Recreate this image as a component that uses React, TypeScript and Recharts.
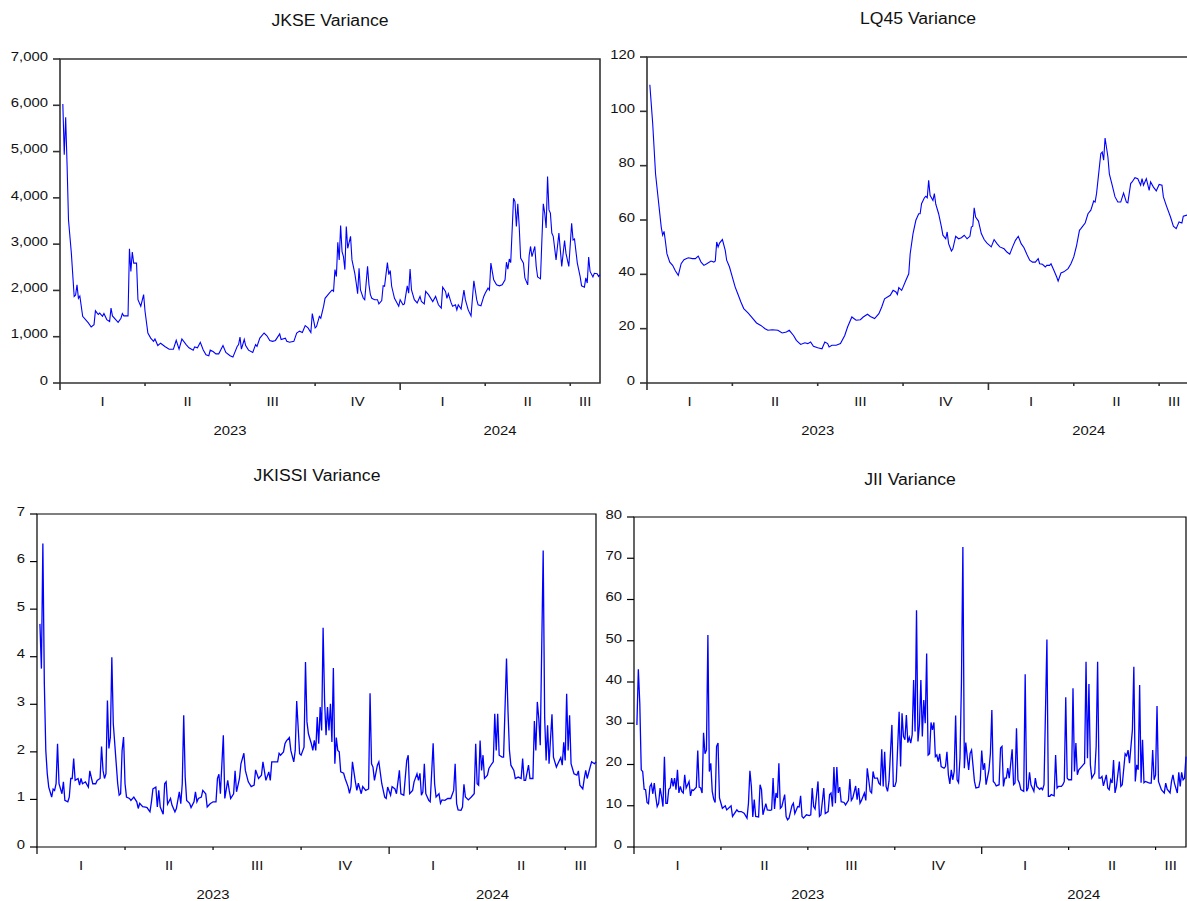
import { LineChart, Line, XAxis, YAxis, ReferenceArea } from 'recharts'

type Pt = [number, number]

const JKSE_VAR: Pt[] = [
  [2, 6030], [3, 4930], [4, 5740], [5, 4700], [6, 3520], [8, 2810], [10, 1870], [11, 1900], [12, 2120], [13, 1830],
  [14, 1880], [16, 1440], [20, 1300], [22, 1210], [24, 1260], [25, 1560], [27, 1480], [28, 1510], [30, 1440], [31, 1500],
  [33, 1370], [35, 1330], [36, 1620], [37, 1450], [41, 1310], [43, 1400], [44, 1500], [45, 1450], [48, 1450], [49, 2900],
  [50, 2410], [51, 2830], [52, 2590], [54, 2590], [55, 1800], [57, 1660], [59, 1910], [60, 1550], [62, 1080], [64, 970],
  [66, 900], [67, 950], [69, 810], [71, 860], [74, 790], [77, 730], [80, 730], [82, 920], [84, 730], [86, 950],
  [89, 830], [91, 760], [94, 710], [95, 780], [97, 760], [99, 880], [101, 720], [103, 610], [105, 590], [106, 710],
  [108, 680], [110, 630], [112, 630], [115, 810], [117, 660], [120, 590], [122, 560], [125, 790], [126, 830], [127, 990],
  [128, 730], [130, 940], [131, 810], [133, 710], [136, 660], [138, 830], [139, 790], [141, 970], [144, 1080], [146, 1020],
  [148, 920], [150, 900], [152, 920], [155, 1060], [156, 940], [159, 970], [160, 900], [162, 880], [165, 900], [167, 1080],
  [169, 1120], [171, 1090], [173, 1240], [175, 1190], [177, 1090], [178, 1500], [180, 1190], [181, 1220], [183, 1440], [184, 1400],
  [186, 1660], [187, 1830], [190, 1940], [192, 2010], [193, 1980], [194, 2450], [195, 2300], [196, 3040], [197, 2660], [198, 3400],
  [199, 2840], [200, 2730], [201, 2450], [202, 3380], [203, 2910], [205, 3170], [206, 2660], [208, 2370], [209, 2160], [210, 1930],
  [211, 2480], [212, 2010], [214, 1830], [215, 1800], [217, 2520], [218, 2120], [219, 1910], [220, 1830], [222, 1800], [224, 1800],
  [225, 1710], [227, 1780], [228, 2100], [229, 2090], [231, 2600], [232, 2340], [233, 2430], [234, 2090], [236, 1830], [239, 1660],
  [240, 1800], [242, 1690], [243, 1710], [245, 2100], [246, 1940], [247, 2460], [248, 2010], [250, 1800], [252, 1730], [254, 1870],
  [255, 1760], [257, 1710], [258, 1980], [260, 1910], [263, 1760], [265, 1870], [267, 1690], [269, 1620], [270, 2070], [272, 1980],
  [273, 1830], [274, 1930], [276, 1730], [277, 1660], [279, 1690], [280, 1580], [281, 1690], [283, 1600], [285, 2010], [286, 1800],
  [288, 1580], [290, 1450], [292, 2210], [293, 2010], [294, 1800], [295, 1690], [297, 1670], [299, 1870], [300, 1940], [302, 2050],
  [303, 2010], [304, 2590], [306, 2230], [308, 2120], [310, 2100], [312, 2120], [314, 2230], [315, 2610], [316, 2460], [317, 2680],
  [318, 2600], [320, 3990], [321, 3920], [322, 3380], [323, 3870], [324, 3380], [325, 2700], [327, 2590], [328, 2270], [330, 2120],
  [331, 2750], [332, 2950], [333, 2730], [335, 2950], [336, 2520], [337, 2290], [339, 2250], [340, 3090], [341, 3870], [342, 3670],
  [343, 3350], [344, 4460], [345, 3740], [346, 3670], [347, 3240], [348, 3170], [350, 2660], [352, 3240], [354, 2520], [356, 3080],
  [357, 2800], [359, 2520], [361, 3450], [362, 3090], [363, 3110], [365, 2590], [367, 2300], [368, 2100], [370, 2070], [371, 2270],
  [372, 2160], [373, 2720], [374, 2410], [376, 2290], [377, 2370], [379, 2360], [380, 2300], [381, 2340],
]

const LQ45_VAR: Pt[] = [
  [2, 109.8], [4, 95.5], [6, 77], [8, 67.2], [10, 57.4], [11, 54.4], [12, 55.8], [13, 51.9], [14, 47.6], [16, 44.5],
  [18, 43.3], [20, 41.2], [22, 39.6], [24, 43.9], [26, 45.4], [29, 46.1], [32, 45.8], [34, 45.8], [36, 46.7], [38, 44.5],
  [40, 43.3], [42, 43.9], [45, 44.9], [47, 44.5], [48, 44.9], [49, 51.9], [50, 50.1], [51, 51.5], [53, 52.8], [55, 48.8],
  [56, 45.2], [58, 42.7], [60, 39], [62, 35.3], [64, 32.6], [66, 29.8], [68, 27.4], [71, 25.8], [74, 24], [77, 22.1],
  [80, 21.2], [83, 20], [85, 19.4], [88, 19.6], [92, 19.4], [95, 18.4], [98, 18.8], [100, 19.4], [103, 17.5], [105, 15.7],
  [108, 14.2], [111, 14.8], [113, 14.5], [115, 15.1], [117, 13.5], [120, 13], [123, 12.6], [125, 15.1], [127, 14.5], [128, 13.3],
  [130, 13.9], [133, 13.9], [136, 14.5], [139, 17.5], [141, 20.6], [144, 24.3], [147, 23.1], [150, 23.3], [152, 24.3], [155, 25.3],
  [157, 24.5], [160, 23.7], [163, 25.5], [165, 28], [167, 31], [171, 32.3], [173, 34.1], [175, 33.5], [176, 32.6], [177, 35.1],
  [179, 34.1], [180, 35.3], [182, 37.8], [184, 40.2], [185, 47.6], [187, 55], [189, 59.9], [191, 62.3], [192, 62.3], [193, 66],
  [195, 68.2], [196, 68.7], [197, 68.2], [198, 74.6], [199, 69.1], [201, 67.2], [202, 69.7], [203, 65.8], [205, 62.3], [207, 57.4],
  [208, 54.4], [210, 53.1], [211, 55.6], [212, 51.3], [214, 48.6], [215, 49.4], [217, 54], [219, 53.1], [221, 53.5], [223, 54.4],
  [225, 53.1], [227, 54], [228, 57.4], [229, 57.7], [230, 64.5], [231, 61.1], [233, 59.6], [235, 55], [237, 52.8], [239, 51.5],
  [242, 50.1], [244, 52.8], [246, 51.3], [248, 50.1], [251, 49.4], [253, 48.2], [255, 47.4], [257, 50.1], [259, 52.5], [261, 54],
  [263, 51.3], [265, 49.8], [267, 47.4], [269, 45.2], [271, 44.5], [273, 44.5], [275, 45.8], [276, 43.9], [278, 43.7], [280, 42.7],
  [281, 43.3], [283, 43.3], [284, 43.9], [286, 41.5], [288, 39], [289, 37.5], [291, 40.5], [293, 40.9], [296, 42.1], [298, 43.9],
  [300, 46.4], [302, 50.7], [304, 56.2], [305, 56.8], [308, 58.9], [310, 62.3], [312, 63.6], [314, 67], [315, 66.6], [316, 69.7],
  [317, 74.6], [319, 84.4], [320, 85], [321, 82], [322, 90.2], [324, 83.2], [325, 77], [327, 72.8], [329, 68.5], [331, 66.6],
  [333, 66.6], [335, 69.9], [337, 66.6], [338, 66.3], [340, 73.4], [341, 74], [343, 75.6], [345, 75.2], [347, 72.8], [348, 75.2],
  [349, 72.8], [351, 75.2], [353, 70.9], [354, 74], [356, 72.1], [358, 70.7], [360, 73.1], [362, 72.8], [363, 68.5], [365, 65.4],
  [368, 61.1], [370, 57.7], [372, 56.8], [374, 59.3], [376, 58.9], [377, 61.4], [381, 62],
]

const JKISSI_VAR: Pt[] = [
  [2, 4.69], [3, 3.75], [4, 6.38], [5, 3.43], [6, 2.03], [7, 1.54], [8, 1.26], [10, 1.05], [11, 1.22], [12, 1.19],
  [13, 1.33], [14, 2.17], [15, 1.33], [17, 1.12], [18, 1.37], [19, 0.98], [21, 0.95], [22, 1.05], [23, 1.44], [24, 1.44],
  [25, 1.86], [26, 1.4], [28, 1.44], [29, 1.3], [30, 1.44], [31, 1.33], [33, 1.37], [35, 1.26], [36, 1.6], [38, 1.33],
  [40, 1.33], [41, 1.4], [43, 1.44], [44, 2.11], [45, 1.61], [46, 1.44], [47, 1.54], [48, 3.08], [49, 2.07], [50, 2.31],
  [51, 3.99], [52, 2.59], [54, 1.75], [55, 1.33], [56, 1.09], [57, 1.12], [58, 2.03], [59, 2.31], [60, 1.33], [61, 1.05],
  [63, 1.02], [64, 0.98], [66, 1.05], [68, 0.95], [69, 0.81], [70, 0.92], [72, 0.85], [74, 0.84], [75, 0.83], [77, 0.74],
  [78, 0.95], [79, 1.22], [81, 1.26], [82, 0.84], [83, 1.19], [84, 0.84], [86, 0.69], [87, 1.33], [88, 1.37], [89, 0.9],
  [91, 1.02], [92, 0.88], [94, 0.74], [95, 0.81], [97, 1.16], [98, 0.91], [99, 1.33], [100, 2.77], [101, 1.47], [102, 0.98],
  [104, 0.92], [105, 0.83], [107, 0.95], [108, 1.16], [109, 0.95], [110, 1.02], [112, 1.05], [113, 1.19], [115, 1.12], [116, 0.84],
  [118, 0.91], [120, 0.95], [122, 0.95], [123, 1.44], [124, 1.53], [125, 1.12], [127, 2.35], [128, 1.02], [130, 1.4], [131, 1.19],
  [132, 1.02], [134, 1.12], [135, 1.6], [136, 1.16], [138, 1.44], [139, 1.75], [141, 1.97], [142, 1.61], [144, 1.37], [146, 1.27],
  [148, 1.3], [149, 1.62], [151, 1.44], [153, 1.51], [154, 1.79], [156, 1.4], [158, 1.58], [159, 1.4], [160, 1.79], [162, 1.79],
  [164, 1.79], [165, 1.97], [166, 1.93], [168, 2.0], [169, 2.17], [170, 2.23], [172, 2.3], [173, 2.03], [175, 1.79], [176, 2.03],
  [177, 3.07], [179, 1.96], [180, 1.93], [182, 2.1], [183, 3.89], [184, 2.63], [185, 2.38], [187, 2.17], [188, 2.03], [189, 2.24],
  [190, 2.03], [191, 2.73], [192, 2.17], [193, 2.94], [194, 2.45], [195, 4.61], [196, 3.08], [197, 2.35], [198, 2.94], [199, 2.45],
  [200, 3.01], [201, 2.21], [202, 3.76], [203, 1.75], [204, 2.3], [205, 2.03], [206, 2.0], [207, 1.58], [209, 1.55], [210, 1.44],
  [212, 1.27], [213, 1.13], [214, 1.27], [215, 1.79], [217, 1.37], [218, 1.19], [219, 1.34], [221, 1.12], [222, 1.27], [224, 1.19],
  [226, 1.22], [227, 3.23], [228, 1.75], [229, 1.68], [230, 1.4], [232, 1.72], [233, 1.79], [235, 1.33], [237, 1.05], [238, 1.02],
  [239, 1.26], [241, 1.09], [242, 1.27], [244, 1.22], [245, 1.12], [247, 1.61], [248, 1.12], [250, 1.09], [252, 1.82], [253, 1.93],
  [254, 1.12], [256, 1.19], [257, 1.37], [259, 1.54], [260, 1.4], [261, 1.55], [262, 1.09], [263, 1.16], [264, 1.75], [265, 1.12],
  [267, 0.98], [268, 0.95], [270, 2.18], [271, 1.33], [272, 1.05], [274, 1.12], [275, 0.92], [276, 0.99], [278, 0.98], [280, 1.02],
  [282, 1.02], [284, 1.19], [285, 1.75], [286, 0.91], [287, 0.78], [289, 0.77], [290, 0.84], [291, 1.32], [292, 1.05], [294, 0.99],
  [296, 1.05], [298, 1.12], [299, 2.17], [300, 1.33], [301, 1.3], [302, 2.24], [303, 1.61], [304, 1.93], [305, 1.44], [307, 1.51],
  [308, 1.65], [310, 1.75], [311, 1.79], [312, 2.8], [313, 2.03], [314, 2.8], [315, 1.93], [317, 1.89], [318, 1.89], [320, 3.96],
  [321, 2.87], [322, 2.03], [323, 1.72], [325, 1.61], [326, 1.44], [328, 1.47], [330, 1.44], [331, 1.86], [332, 1.4], [333, 1.4],
  [335, 1.72], [336, 1.44], [338, 1.44], [339, 2.65], [340, 2.03], [341, 3.05], [342, 2.7], [343, 2.14], [345, 6.23], [346, 2.73],
  [347, 1.82], [348, 2.56], [349, 1.75], [351, 2.79], [352, 1.89], [354, 1.68], [355, 1.75], [357, 1.88], [358, 1.72], [359, 2.2],
  [360, 1.82], [361, 3.22], [362, 2.03], [363, 2.77], [364, 1.75], [366, 1.54], [368, 1.51], [369, 1.6], [370, 1.3], [372, 1.22],
  [373, 1.44], [374, 1.61], [375, 1.44], [377, 1.68], [378, 1.79], [380, 1.75], [381, 1.79],
]

const JII_VAR: Pt[] = [
  [2, 29.6], [3, 43.1], [4, 34.8], [5, 18.7], [6, 18.3], [7, 14], [8, 13.9], [9, 10.8], [10, 10.5], [11, 14.7],
  [12, 15.3], [13, 12.9], [14, 15.5], [15, 12.3], [16, 9.8], [17, 10.6], [18, 14.3], [19, 12.3], [20, 9.8], [21, 21.9],
  [22, 10.6], [23, 10.6], [24, 14], [25, 14.3], [26, 16.7], [27, 14.7], [28, 16.7], [29, 13.9], [30, 18.7], [31, 13.1],
  [32, 14.7], [33, 13.5], [34, 13.1], [35, 17.5], [36, 14.3], [38, 15.9], [39, 12.4], [40, 13.9], [41, 13.7], [43, 14.5],
  [44, 23.4], [45, 14.5], [46, 14.3], [47, 13.1], [48, 27.7], [49, 22.6], [50, 23.5], [51, 51.4], [52, 18.3], [53, 20.3],
  [54, 13.5], [55, 11.6], [56, 10.8], [57, 24.4], [58, 25.2], [59, 11.9], [61, 9.4], [63, 10], [64, 9], [67, 10],
  [68, 7.4], [71, 9], [72, 8.6], [74, 8.6], [76, 8.2], [78, 7], [79, 10.6], [80, 18.5], [81, 14.7], [82, 7.3],
  [83, 11.5], [84, 7.4], [86, 7.3], [87, 15.1], [88, 13.9], [89, 7.8], [91, 10.5], [92, 9], [94, 8.9], [95, 9],
  [96, 16.7], [97, 9.2], [98, 13.1], [99, 11.9], [100, 20.3], [101, 9.4], [102, 9.8], [104, 12.7], [105, 7.4], [106, 6.6],
  [107, 7], [109, 10], [110, 10.6], [111, 8.1], [113, 9.8], [114, 9.7], [115, 12.4], [116, 7.4], [117, 7], [119, 7.8],
  [121, 7.6], [122, 7.8], [123, 14.3], [124, 9.8], [125, 9.2], [127, 15.9], [128, 7.4], [129, 7.8], [131, 14.3], [132, 8.1],
  [134, 8.6], [135, 12.7], [136, 13.1], [137, 9.8], [138, 19.4], [139, 10.6], [140, 19.4], [141, 13.1], [142, 14.5], [143, 11],
  [145, 10.8], [146, 10.2], [148, 11.3], [149, 16.5], [150, 11.3], [151, 11.9], [153, 14.8], [154, 11.5], [155, 14.3], [156, 10.6],
  [157, 11.3], [159, 13.1], [160, 11.3], [161, 19.1], [163, 13.5], [164, 13.1], [165, 18.3], [166, 16.7], [168, 16.7], [169, 15.5],
  [170, 15.1], [171, 23.7], [172, 14.7], [173, 23.1], [174, 14.7], [175, 13.5], [176, 15.9], [178, 29.6], [179, 14.7], [180, 14.7],
  [181, 15.9], [183, 32.8], [184, 19.5], [185, 32.4], [186, 26.8], [187, 26], [188, 32], [189, 25.3], [190, 26.6], [191, 25.2],
  [192, 27.2], [193, 40.5], [194, 28], [195, 57.4], [196, 25.6], [197, 29.6], [198, 40.5], [199, 26.8], [200, 35.6], [201, 30],
  [202, 46.9], [203, 22.3], [204, 22.6], [205, 30.2], [206, 28.4], [207, 30.2], [208, 21.9], [209, 22.3], [210, 20.7], [211, 22.6],
  [212, 19.5], [214, 19.1], [215, 19.5], [216, 23.1], [217, 17.5], [218, 15.3], [219, 18.7], [220, 16.3], [221, 18.3], [222, 31.9],
  [223, 16.3], [224, 15.6], [225, 21.5], [226, 39.7], [227, 72.7], [228, 19.1], [229, 25.3], [230, 21.9], [231, 18.7], [232, 22.7],
  [233, 23.5], [235, 15.9], [236, 14.3], [238, 14.5], [239, 16.3], [240, 23.4], [241, 18.7], [242, 20.3], [243, 15.1], [245, 18.7],
  [246, 22.7], [247, 33.2], [248, 15.9], [249, 15.5], [250, 14.8], [252, 15.1], [253, 24], [254, 24.4], [255, 14.7], [256, 16.7],
  [257, 16.7], [258, 19.1], [259, 16.7], [261, 23.7], [262, 15.1], [263, 15.5], [264, 28.8], [265, 16.3], [266, 15.5], [267, 13.9],
  [269, 13.5], [270, 41.9], [271, 13.5], [272, 14.3], [273, 18.1], [274, 15.1], [275, 14.3], [276, 13.5], [277, 16.7], [278, 14.7],
  [280, 14], [281, 14.3], [282, 13.9], [283, 15.1], [285, 50.3], [286, 12.3], [287, 12.3], [288, 12.7], [290, 12.4], [291, 22.3],
  [292, 14.3], [293, 14.7], [295, 14.7], [296, 15.1], [297, 15.9], [298, 36.3], [299, 16.7], [300, 16.3], [302, 16.3], [303, 38.5],
  [304, 18.3], [305, 25.2], [306, 17.5], [307, 18.7], [309, 19.5], [310, 19.9], [311, 20.3], [312, 44.9], [313, 21.5], [314, 39.5],
  [315, 19.9], [316, 16.7], [318, 17.9], [319, 24.4], [320, 44.9], [321, 16.7], [322, 16.7], [323, 17.1], [324, 14.8], [326, 17.5],
  [327, 14.3], [328, 13.9], [329, 16.3], [330, 15.5], [331, 21.1], [332, 13.1], [333, 14.7], [335, 20.7], [336, 14.7], [337, 15.1],
  [339, 22.6], [340, 22.1], [341, 23.5], [342, 20.3], [344, 28.4], [345, 43.7], [346, 15.9], [347, 19.9], [348, 18.7], [349, 39.3],
  [350, 15.6], [351, 26], [352, 15.6], [353, 15.9], [355, 15.6], [356, 15.5], [357, 15.5], [358, 23.5], [359, 16.3], [360, 17.5],
  [361, 34.2], [362, 15.9], [364, 13.9], [365, 13.5], [366, 13.1], [367, 15.5], [368, 14], [370, 13.1], [371, 15.9], [372, 17.5],
  [373, 15.5], [375, 13.1], [376, 18.1], [377, 14.7], [378, 18.1], [379, 16.3], [380, 16.7], [381, 21.9],
]

// x axis: quarter boundaries, roman quarter labels, year labels
const LAST_OBS = 381
const QUARTER_EDGES = [0, 60, 120, 180, 240, 300, 360]
const QUARTER_MIDS = [30, 90, 150, 210, 270, 330, 370.5]
const QUARTER_LABELS = ['I', 'II', 'III', 'IV', 'I', 'II', 'III']
const YEAR_CENTERS = [120, 310.5]
const YEAR_LABELS = ['2023', '2024']
const X_TICKS = Array.from(new Set([...QUARTER_EDGES, ...QUARTER_MIDS, ...YEAR_CENTERS])).sort((a, b) => a - b)

const FONT = '"Liberation Sans", Arial, Helvetica, sans-serif'
const SX = 1.1 // the source picture is a little stretched sideways
const YW = 60
const MT = 10
const MR = 6
const XH = 70

interface Plot { x: number; y: number; w: number; h: number }

interface PanelCfg {
  title: string
  points: Pt[]
  yMax: number
  yStep: number
  plot: Plot
  titleY: number
  axisColor: string
  axisWidth: number
  lineWidth: number
}

const PANELS: PanelCfg[] = [
  { title: 'JKSE Variance', points: JKSE_VAR, yMax: 7000, yStep: 1000, plot: { x: 60, y: 59, w: 540, h: 324 }, titleY: 21, axisColor: '#333', axisWidth: 1.6, lineWidth: 1.1 },
  { title: 'LQ45 Variance', points: LQ45_VAR, yMax: 120, yStep: 20, plot: { x: 647, y: 57, w: 542, h: 326 }, titleY: 19, axisColor: '#333', axisWidth: 1.6, lineWidth: 1.1 },
  { title: 'JKISSI Variance', points: JKISSI_VAR, yMax: 7, yStep: 1, plot: { x: 37, y: 514, w: 559, h: 333 }, titleY: 476, axisColor: '#000', axisWidth: 1.2, lineWidth: 1.3 },
  { title: 'JII Variance', points: JII_VAR, yMax: 80, yStep: 10, plot: { x: 634, y: 517, w: 552, h: 330 }, titleY: 480, axisColor: '#000', axisWidth: 1.2, lineWidth: 1.3 },
]

function XTick(props: any) {
  const { x, y, payload, color, width } = props
  const v = payload.value
  const qi = QUARTER_MIDS.indexOf(v)
  const yi = YEAR_CENTERS.indexOf(v)
  const isEdge = QUARTER_EDGES.includes(v)
  return (
    <g>
      {isEdge && <line x1={x} x2={x} y1={y} y2={y + (v % 240 === 0 ? 7 : 3)} stroke={color} strokeWidth={width} />}
      {qi >= 0 && (
        <text transform={`translate(${x},${y + 18}) scale(${SX},1)`} textAnchor="middle" dominantBaseline="central"
          fontFamily={FONT} fontSize={13.5} fill="#111">
          {QUARTER_LABELS[qi]}
        </text>
      )}
      {yi >= 0 && (
        <text transform={`translate(${x},${y + 47}) scale(${SX},1)`} textAnchor="middle" dominantBaseline="central"
          fontFamily={FONT} fontSize={13.5} fill="#111">
          {YEAR_LABELS[yi]}
        </text>
      )}
    </g>
  )
}

function YTick(props: any) {
  const { x, y, payload, color, width } = props
  return (
    <g>
      <line x1={x - 7} x2={x} y1={y} y2={y} stroke={color} strokeWidth={width} />
      <text transform={`translate(${x - 12},${y - 3}) scale(${SX},1)`} textAnchor="end" dominantBaseline="central"
        fontFamily={FONT} fontSize={13.5} fill="#111">
        {payload.value.toLocaleString('en-US')}
      </text>
    </g>
  )
}

function Panel({ cfg }: { cfg: PanelCfg }) {
  const { plot } = cfg
  const data = cfg.points.map(([t, v]) => ({ t, v }))
  const yTicks: number[] = []
  for (let k = 0; k * cfg.yStep <= cfg.yMax; k++) yTicks.push(k * cfg.yStep)
  return (
    <>
      <div style={{
        position: 'absolute', left: plot.x + plot.w / 2 - 150, top: cfg.titleY - 10, width: 300, height: 20,
        lineHeight: '20px', textAlign: 'center', fontFamily: FONT, fontSize: 16, color: '#111',
        transform: `scaleX(${SX})`,
      }}>
        {cfg.title}
      </div>
      <div style={{ position: 'absolute', left: plot.x - YW, top: plot.y - MT }}>
        <LineChart width={YW + plot.w + MR} height={MT + plot.h + XH} data={data}
          margin={{ top: MT, right: MR, bottom: 0, left: 0 }}>
          <XAxis dataKey="t" type="number" domain={[0, LAST_OBS]} ticks={X_TICKS} interval={0} height={XH}
            axisLine={false} tickLine={false} tickSize={0} tickMargin={0}
            tick={(p: any) => <XTick {...p} color={cfg.axisColor} width={cfg.axisWidth} />} />
          <YAxis type="number" domain={[0, cfg.yMax]} ticks={yTicks} interval={0} width={YW}
            axisLine={false} tickLine={false} tickSize={0} tickMargin={0}
            tick={(p: any) => <YTick {...p} color={cfg.axisColor} width={cfg.axisWidth} />} />
          <ReferenceArea x1={0} x2={LAST_OBS} y1={0} y2={cfg.yMax} fill="none" fillOpacity={0}
            stroke={cfg.axisColor} strokeWidth={cfg.axisWidth} />
          <Line type="linear" dataKey="v" stroke="#0000ff" strokeWidth={cfg.lineWidth} dot={false}
            activeDot={false} isAnimationActive={false} />
        </LineChart>
      </div>
    </>
  )
}

export default function App() {
  return (
    <div style={{ position: 'absolute', left: 0, top: 0, width: 1187, height: 901, overflow: 'hidden', background: '#fff' }}>
      {PANELS.map((cfg) => <Panel key={cfg.title} cfg={cfg} />)}
    </div>
  )
}
